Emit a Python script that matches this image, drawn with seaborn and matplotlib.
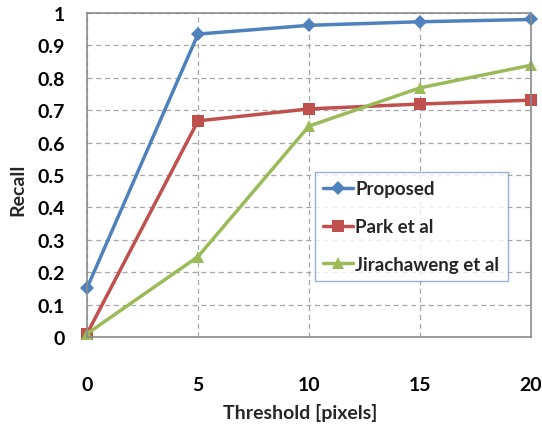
import matplotlib
matplotlib.use("Agg")
import matplotlib.pyplot as plt
import seaborn as sns
import pandas as pd

thresholds = [0, 5, 10, 15, 20]
proposed = [0.151, 0.935, 0.962, 0.973, 0.980]
park = [0.01, 0.667, 0.704, 0.719, 0.731]
jirachaweng = [0.01, 0.248, 0.651, 0.769, 0.839]
series_names = ["Proposed", "Park et al", "Jirachaweng et al"]

sns.set_theme(style="white")
plt.rcParams["font.family"] = ["Lato", "DejaVu Sans"]
plt.rcParams["font.weight"] = "bold"

df = pd.DataFrame({
    "Threshold": thresholds * 3,
    "Recall": proposed + park + jirachaweng,
    "Method": sum([[n] * len(thresholds) for n in series_names], []),
})

colors = {"Proposed": "#4F81BD", "Park et al": "#C0504D", "Jirachaweng et al": "#9BBB59"}
markers = {"Proposed": "D", "Park et al": "s", "Jirachaweng et al": "^"}
sizes = {"Proposed": 7, "Park et al": 9, "Jirachaweng et al": 9}

fig = plt.figure(figsize=(5.42, 4.31), dpi=100)
ax = fig.add_axes([87 / 542, 1 - 338 / 431, (531 - 87) / 542, (338 - 14) / 431])

for name in series_names:
    sub = df[df["Method"] == name]
    sns.lineplot(data=sub, x="Threshold", y="Recall", ax=ax, color=colors[name],
                 marker=markers[name], markersize=sizes[name], markeredgewidth=0,
                 linewidth=2.5, label=name)

ax.set_xlim(0, 20)
ax.set_ylim(0, 1)
ax.set_xticks(thresholds)
ax.set_yticks([i / 10 for i in range(11)])
ax.set_yticklabels(["0", "0.1", "0.2", "0.3", "0.4", "0.5", "0.6", "0.7", "0.8", "0.9", "1"])
ax.grid(True, linestyle=(0, (4, 3)), color="#a6a6a6", linewidth=0.9)
for sp in ax.spines.values():
    sp.set_color("#8c8c8c")
    sp.set_linewidth(1.2)
ax.tick_params(axis="both", direction="out", length=6, width=1, color="#8c8c8c",
               labelsize=14, labelcolor="black")
ax.tick_params(axis="x", pad=22)
ax.tick_params(axis="y", pad=10)
for lab in ax.get_xticklabels() + ax.get_yticklabels():
    lab.set_fontweight("bold")

ax.set_xlabel("Threshold [pixels]", fontsize=14, fontweight="bold")
ax.set_ylabel("Recall", fontsize=14, fontweight="bold")
ax.xaxis.set_label_coords((300 - 87) / 444, (338 - 413) / 324)
ax.yaxis.set_label_coords((18 - 87) / 444, (338 - 190) / 324)
ax.xaxis.label.set_va("center")
ax.yaxis.label.set_va("center")

for line in ax.lines:
    line.set_clip_on(False)

leg = ax.legend(loc="upper left", bbox_to_anchor=((315 - 87) / 444, 1 - (173 - 14) / 324),
                borderaxespad=0, frameon=True, fancybox=False,
                prop={"weight": "bold", "size": 13.5},
                handlelength=1.6, handletextpad=0.1, labelspacing=1.1, borderpad=0.45)
leg.get_frame().set_edgecolor("#7f9fcf")
leg.get_frame().set_linewidth(1.0)

fig.savefig("out.png", dpi=100)
